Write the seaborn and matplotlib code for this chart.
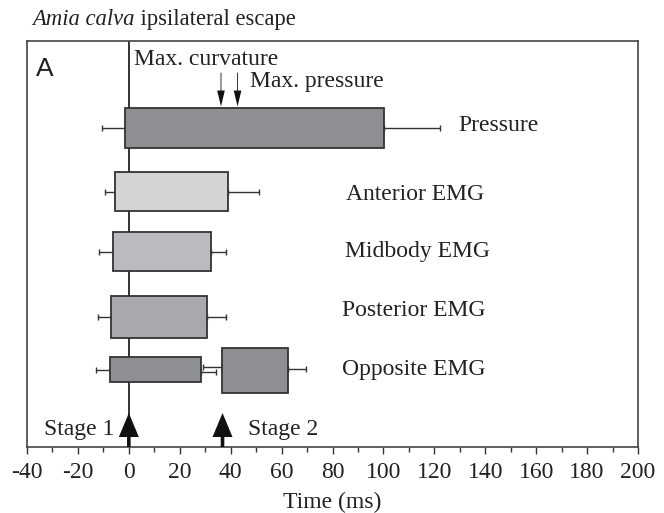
import matplotlib
matplotlib.use("Agg")
import matplotlib.pyplot as plt
import seaborn as sns
import numpy as np

# ---------------- data ----------------
labels = ["Pressure", "Anterior EMG", "Midbody EMG", "Posterior EMG", "Opposite EMG", "Opposite EMG"]
onset_mean = [-1.4, -5.3, -6.4, -6.9, -7.4, 36.7]
onset_sd = [9.1, 4.0, 5.2, 5.2, 5.5, 7.4]
offset_mean = [100.3, 39.1, 32.1, 30.7, 28.4, 62.7]
offset_sd = [21.9, 12.2, 5.9, 7.5, 6.0, 7.0]
stage_times = [0, 36.8]
stage_labels = ["Stage 1", "Stage 2"]
max_times = [36.2, 42.7]
max_labels = ["Max. curvature", "Max. pressure"]
xticks = list(range(-40, 201, 20))

# ---------------- layout / style ----------------
row_center = [86.7, 150.5, 210.5, 276.0, 328.7, 329.5]
row_height = [40, 39, 39, 42, 25, 45]
err_y_left = [86.7, 150.5, 210.5, 276.0, 329.0, 325.7]
err_y_right = [86.7, 150.5, 210.5, 276.0, 331.0, 328.3]
bar_colors = ["#8d8f92", "#d3d4d6", "#b9bbbe", "#a7a9ac", "#8d8f92", "#8d8f92"]
label_pos = [(129.6, 89.7), (85.2, 159.0), (84.9, 215.7), (83.6, 275.0), (83.6, 334.0)]

sns.set_theme(style="ticks")
plt.rcParams["font.family"] = ["Liberation Serif", "DejaVu Serif"]
plt.rcParams["axes.unicode_minus"] = False

fig = plt.figure(figsize=(6.64, 5.13), dpi=100)
ax = fig.add_axes([27 / 664, 1 - 447 / 513, (638 - 27) / 664, (447 - 41) / 513])
ax.set_xlim(-40, 200)
ax.set_ylim(406, 0)

edge = "#333333"
ax.axvline(0, color="#111111", lw=1.2, zorder=1)

for i in range(len(onset_mean)):
    w = offset_mean[i] - onset_mean[i]
    ax.barh(row_center[i], w, left=onset_mean[i], height=row_height[i],
            color=bar_colors[i], edgecolor=edge, linewidth=1.3, zorder=3)
    ax.errorbar([onset_mean[i]], [err_y_left[i]], xerr=[[onset_sd[i]], [0]],
                fmt="none", ecolor=edge, elinewidth=1.0, capsize=2.5, capthick=1.0, zorder=2)
    ax.errorbar([offset_mean[i]], [err_y_right[i]], xerr=[[0], [offset_sd[i]]],
                fmt="none", ecolor=edge, elinewidth=1.0, capsize=2.5, capthick=1.0, zorder=2)

fs = 17
for (lx, ly), lab in zip(label_pos, labels[:5]):
    ax.text(lx, ly, lab, fontsize=fs, ha="left", va="baseline", color="#222222")

# Max arrows
ax.text(2.2, 24.0, max_labels[0], fontsize=fs, ha="left", va="baseline", color="#222222")
ax.text(47.5, 45.7, max_labels[1], fontsize=fs, ha="left", va="baseline", color="#222222")
for t in max_times:
    ax.annotate("", xy=(t, 65.5), xytext=(t, 31.7),
                arrowprops=dict(width=0.6, headwidth=5.5, headlength=11.5, shrink=0,
                                facecolor="#111111", edgecolor="none"), zorder=4)

# Stage arrows
for t in stage_times:
    ax.annotate("", xy=(t, 372), xytext=(t, 406),
                arrowprops=dict(width=2.6, headwidth=14.4, headlength=17.3, shrink=0,
                                facecolor="#111111", edgecolor="none"), zorder=4,
                annotation_clip=False)
ax.text(-33.5, 394, stage_labels[0], fontsize=fs, ha="left", va="baseline", color="#222222")
ax.text(47.0, 394, stage_labels[1], fontsize=fs, ha="left", va="baseline", color="#222222")

ax.text(-36.3, 35, "A", fontsize=19, family=["Liberation Sans", "DejaVu Sans"],
        ha="left", va="baseline", color="#222222")

ax.set_xticks(xticks)
ax.set_xticklabels([str(v) for v in xticks])
ax.set_xticks(list(range(-30, 200, 20)), minor=True)
ax.set_yticks([])
ax.tick_params(axis="x", which="major", direction="out", length=5, width=1, color="#333333",
               labelsize=fs, pad=6, labelcolor="#222222")
ax.tick_params(axis="x", which="minor", direction="out", length=3.3, width=1, color="#333333")
for s in ax.spines.values():
    s.set_color("#444444")
    s.set_linewidth(1.2)
ax.set_xlabel("Time (ms)", fontsize=fs, labelpad=6, color="#222222")

tfs = 16.3
t1 = fig.text(32.3 / 664, 1 - 25 / 513, "Amia calva", fontsize=tfs, style="italic",
              ha="left", va="baseline", color="#222222")
fig.canvas.draw()
bb = t1.get_window_extent()
fig.text(bb.x1 / fig.bbox.width, 1 - 25 / 513, " ipsilateral escape", fontsize=tfs,
         ha="left", va="baseline", color="#222222")

fig.savefig("out.png", dpi=100)
